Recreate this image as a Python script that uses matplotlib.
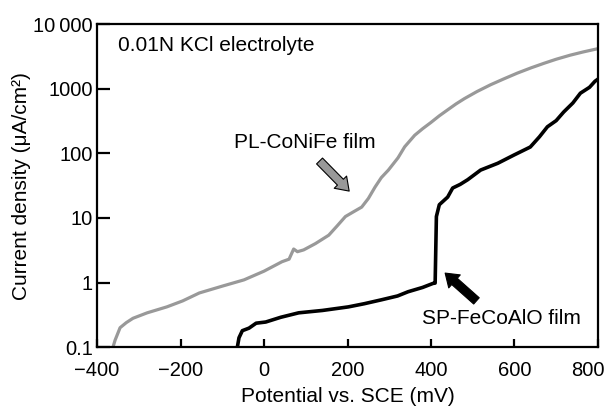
import numpy as np
import matplotlib.pyplot as plt
from matplotlib.ticker import FixedLocator, FixedFormatter, NullLocator
from matplotlib.transforms import ScaledTranslation

plt.rcParams['font.family'] = ['Liberation Sans', 'DejaVu Sans']

# %%	polarisation curves, 0.01N KCl

# PL-CoNiFe film
pl_mv = [-362, -357, -345, -330, -314, -280, -233, -195, -155, -100, -48, 0, 43, 60,
         71, 80, 95, 123, 155, 175, 195, 215, 234, 250, 266, 281, 298, 321, 337, 361,
         380, 400, 420, 440, 460, 480, 510, 543, 575, 607, 640, 671, 700, 734, 765, 793, 800]
pl_j = [0.1, 0.128, 0.2, 0.24, 0.28, 0.34, 0.42, 0.52, 0.69, 0.88, 1.1, 1.5, 2.1, 2.3,
        3.3, 3.0, 3.2, 4.0, 5.4, 7.5, 10.5, 12.5, 14.7, 20, 30, 42, 55, 85, 126, 190,
        240, 300, 380, 470, 580, 700, 900, 1150, 1420, 1740, 2100, 2470, 2850, 3300, 3700, 4060, 4150]

# SP-FeCoAlO film
sp_mv = [-64, -60, -52, -36, -19, 4, 40, 83, 140, 202, 240, 281, 320, 345, 380, 405, 410,
         413, 420, 440, 452, 470, 488, 519, 560, 599, 638, 660, 679, 700, 718, 740, 758,
         780, 793, 800]
sp_j = [0.1, 0.14, 0.18, 0.197, 0.235, 0.245, 0.29, 0.34, 0.37, 0.42, 0.47, 0.54, 0.62, 0.72,
        0.84, 0.97, 0.98, 10.5, 16, 21, 29, 33, 39, 55, 70, 94, 125, 180, 257, 320,
        435, 600, 850, 1050, 1300, 1400]

yticks = [0.1, 1, 10, 100, 1000, 10000]
ytick_labels = ['0.1', '1', '10', '100', '1000', '10\u2009000']
xticks = [-400, -200, 0, 200, 400, 600, 800]

fig = plt.figure(figsize=(6.07, 4.07), dpi=100)
ax = fig.add_axes([0.160, 0.147, 0.825, 0.794])

ax.plot(pl_mv, pl_j, color='#999999', lw=2.3, solid_joinstyle='round')
ax.plot(sp_mv, sp_j, color='black', lw=2.6, solid_joinstyle='round')

ax.set_yscale('log')
ax.set_xlim(-400, 800)
ax.set_ylim(0.1, 10000)
ax.yaxis.set_major_locator(FixedLocator(yticks))
ax.yaxis.set_major_formatter(FixedFormatter(ytick_labels))
ax.yaxis.set_minor_locator(NullLocator())
ax.set_xticks(xticks)
ax.set_xticklabels([f'{v}'.replace('-', '\u2212') for v in xticks])

for s in ax.spines.values():
    s.set_linewidth(1.6)
ax.tick_params(axis='both', direction='in', width=1.6, labelsize=14.5)
ax.tick_params(axis='y', length=9.5, pad=3)
ax.tick_params(axis='x', length=6, pad=10)

# last x label sits pulled in from the right edge
last = ax.get_xticklabels()[-1]
last.set_horizontalalignment('right')
last.set_transform(last.get_transform() + ScaledTranslation(0.07, 0, fig.dpi_scale_trans))

ax.set_xlabel('Potential vs. SCE (mV)', fontsize=15, labelpad=5)
ax.set_ylabel('Current density (\u03bcA/cm\u00b2)', fontsize=15, labelpad=2)

ax.text(0.042, 0.932, '0.01N KCl electrolyte', transform=ax.transAxes,
        fontsize=15, ha='left', va='center')
ax.text(98, 145, 'PL-CoNiFe film', fontsize=15, ha='center', va='center')
ax.text(569, 0.28, 'SP-FeCoAlO film', fontsize=15, ha='center', va='center')

ax.annotate('', xy=(204, 26), xytext=(133, 76),
            arrowprops=dict(arrowstyle='simple,head_width=1.25,head_length=0.9,tail_width=0.6',
                            fc='#999999', ec='black', lw=0.8, shrinkA=0, shrinkB=0))
ax.annotate('', xy=(434, 1.4), xytext=(509, 0.52),
            arrowprops=dict(arrowstyle='simple,head_width=1.25,head_length=0.9,tail_width=0.6',
                            fc='black', ec='black', lw=0.8, shrinkA=0, shrinkB=0))

fig.savefig('out.png', dpi=100)
